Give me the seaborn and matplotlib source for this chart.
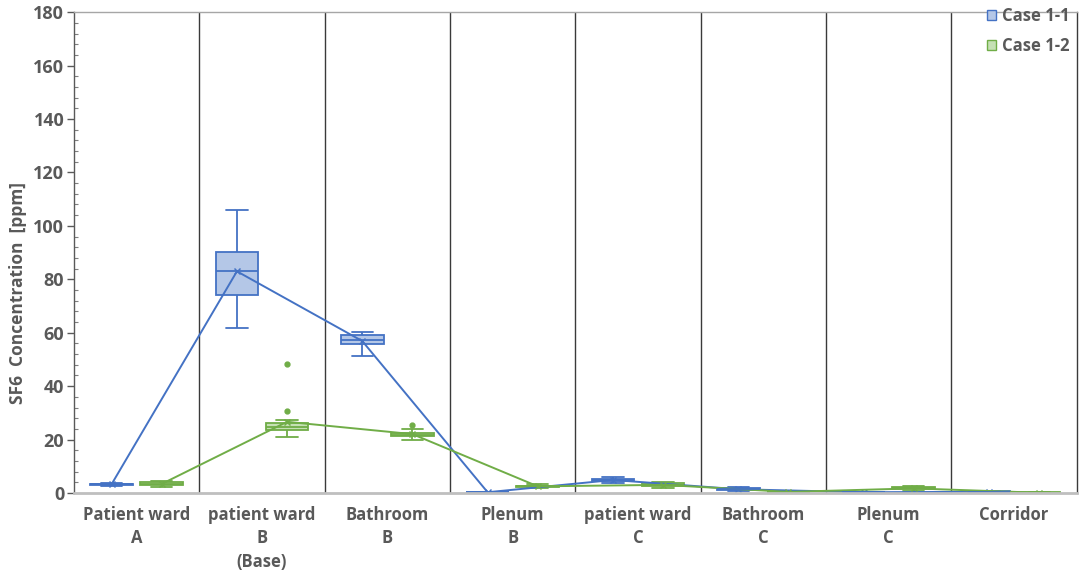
import numpy as np
import pandas as pd
import matplotlib
matplotlib.use("Agg")
import matplotlib.pyplot as plt
from matplotlib.patches import Patch
from matplotlib.ticker import MultipleLocator, FixedLocator
import seaborn as sns

# Measurement locations (x categories)
locations = [
    "Patient ward\nA", "patient ward\nB\n(Base)", "Bathroom\nB", "Plenum\nB",
    "patient ward\nC", "Bathroom\nC", "Plenum\nC", "Corridor",
]
cases = ["Case 1-1", "Case 1-2"]

# SF6 readings [ppm] per location, Case 1-1
case11_ppm = [
    [2.8, 3.0, 3.1, 3.2, 3.3, 3.4, 3.5, 3.6, 3.8],
    [61.8, 70.5, 74.1, 78.8, 83.1, 86.0, 90.2, 96.5, 105.9],
    [51.3, 54.2, 55.6, 56.5, 57.3, 58.1, 59.0, 59.6, 60.3],
    [0.1, 0.2, 0.2, 0.3, 0.3, 0.3, 0.4, 0.4, 0.5],
    [3.8, 4.1, 4.4, 4.7, 4.9, 5.1, 5.4, 5.6, 5.9],
    [0.8, 1.0, 1.1, 1.3, 1.4, 1.5, 1.7, 1.9, 2.1],
    [0.1, 0.2, 0.2, 0.3, 0.3, 0.3, 0.4, 0.4, 0.5],
    [0.2, 0.3, 0.4, 0.4, 0.5, 0.5, 0.6, 0.6, 0.7],
]

# SF6 readings [ppm] per location, Case 1-2
case12_ppm = [
    [2.3, 2.6, 2.9, 3.2, 3.4, 3.7, 4.0, 4.2, 4.4],
    [21.0, 22.2, 23.0, 23.6, 24.0, 24.4, 24.8, 25.3, 25.8, 26.2, 27.3, 30.7, 48.3],
    [19.7, 20.5, 21.0, 21.2, 21.5, 21.7, 21.9, 22.1, 22.3, 22.4, 23.2, 23.8, 25.4],
    [1.8, 2.0, 2.2, 2.4, 2.5, 2.6, 2.8, 3.0, 3.2],
    [2.0, 2.3, 2.5, 2.8, 3.0, 3.3, 3.6, 3.9, 4.1],
    [0.2, 0.3, 0.3, 0.4, 0.4, 0.5, 0.5, 0.6, 0.6],
    [0.9, 1.2, 1.4, 1.6, 1.8, 1.9, 2.1, 2.3, 2.5],
    [0.0, 0.0, 0.1, 0.1, 0.1, 0.1, 0.2, 0.2, 0.2],
]

y_ticks = [0, 20, 40, 60, 80, 100, 120, 140, 160, 180]

rows = []
for case, series in zip(cases, [case11_ppm, case12_ppm]):
    for loc, vals in zip(locations, series):
        for v in vals:
            rows.append({"location": loc, "case": case, "ppm": v})
df = pd.DataFrame(rows)

edge_colors = {"Case 1-1": "#4472C4", "Case 1-2": "#70AD47"}
fill_colors = {"Case 1-1": "#B4C7E7", "Case 1-2": "#C5E0B4"}
text_color = "#595959"

sns.set_theme(style="white")
plt.rcParams["font.family"] = ["Open Sans", "DejaVu Sans"]
plt.rcParams["font.weight"] = "bold"

fig = plt.figure(figsize=(10.8, 5.78), dpi=100)
ax = fig.add_axes([0.0685, 0.147, 0.9285, 0.832])

for case in cases:
    sub = df[df["case"] == case]
    ec = edge_colors[case]
    sns.boxplot(
        data=sub, x="location", y="ppm", hue="case",
        order=locations, hue_order=cases,
        palette=fill_colors, saturation=1, linecolor=ec, linewidth=1.3,
        width=0.8, gap=0.15, dodge=True, whis=1.5,
        flierprops=dict(marker="o", markersize=3.5,
                        markerfacecolor=ec, markeredgecolor=ec),
        legend=False, ax=ax,
    )

# Mean trend lines across the locations
sns.pointplot(
    data=df, x="location", y="ppm", hue="case",
    order=locations, hue_order=cases, palette=edge_colors,
    estimator="mean", errorbar=None, dodge=0.4,
    markers="x", markersize=4, linewidth=1.4,
    legend=False, ax=ax,
)

ax.set_xlim(-0.5, len(locations) - 0.5)
ax.set_ylim(0, 180)
ax.yaxis.set_major_locator(FixedLocator(y_ticks))
ax.yaxis.set_minor_locator(MultipleLocator(4))
ax.xaxis.set_minor_locator(FixedLocator(np.arange(0.5, len(locations) - 0.5, 1)))
ax.grid(False)
ax.grid(which="minor", axis="x", color="#3a3a3a", linewidth=1.0)

ax.tick_params(axis="y", which="major", direction="out", length=5, width=1,
               color=text_color, labelsize=13, labelcolor=text_color, pad=2, left=True)
ax.tick_params(axis="y", which="minor", direction="in", length=3, width=0.8,
               color="#7f7f7f", left=True)
ax.tick_params(axis="x", which="both", length=0, labelsize=12,
               labelcolor=text_color, pad=9)
for lab in ax.get_xticklabels():
    lab.set_fontweight("bold")
    lab.set_linespacing(1.4)
for lab in ax.get_yticklabels():
    lab.set_fontweight("bold")

ax.set_xlabel("")
ax.set_ylabel("SF6  Concentration  [ppm]", fontsize=12.5, fontweight="bold",
              color=text_color)
ax.yaxis.set_label_coords(-0.047, 0.415)

ax.spines["left"].set_color("#595959")
ax.spines["left"].set_linewidth(1.0)
ax.spines["bottom"].set_color("#bfbfbf")
ax.spines["bottom"].set_linewidth(2.0)
ax.spines["top"].set_color("#a6a6a6")
ax.spines["top"].set_linewidth(1.0)
ax.spines["right"].set_color("#3a3a3a")
ax.spines["right"].set_linewidth(1.0)

handles = [Patch(facecolor=fill_colors[c], edgecolor=edge_colors[c], linewidth=1.0, label=c)
           for c in cases]
leg = ax.legend(handles=handles, loc="upper right", bbox_to_anchor=(1.0, 1.025),
                frameon=False, handlelength=0.55, handleheight=0.55,
                handletextpad=0.4, labelspacing=0.75, borderaxespad=0.0,
                prop={"size": 12, "weight": "bold"})
for t in leg.get_texts():
    t.set_color(text_color)

fig.savefig("out.png", dpi=100)
